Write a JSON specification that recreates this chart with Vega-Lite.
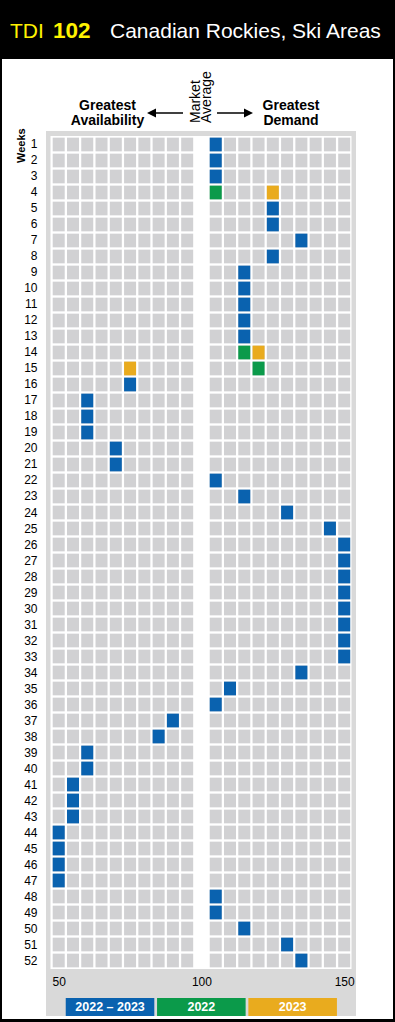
{
  "$schema": "https://vega.github.io/schema/vega-lite/v6.json",
  "width": 395,
  "height": 1022,
  "autosize": {"type": "fit", "contains": "padding"},
  "padding": {"left": 2, "right": 2, "top": 0, "bottom": 3},
  "background": "#000000",
  "config": {"view": {"fill": "#ffffff", "stroke": null}, "font": "Liberation Sans"},
  "datasets": {
    "cells": [
      {"week": 1, "col": 105, "period": "2022 – 2023"},
      {"week": 2, "col": 105, "period": "2022 – 2023"},
      {"week": 3, "col": 105, "period": "2022 – 2023"},
      {"week": 4, "col": 105, "period": "2022"},
      {"week": 4, "col": 125, "period": "2023"},
      {"week": 5, "col": 125, "period": "2022 – 2023"},
      {"week": 6, "col": 125, "period": "2022 – 2023"},
      {"week": 7, "col": 135, "period": "2022 – 2023"},
      {"week": 8, "col": 125, "period": "2022 – 2023"},
      {"week": 9, "col": 115, "period": "2022 – 2023"},
      {"week": 10, "col": 115, "period": "2022 – 2023"},
      {"week": 11, "col": 115, "period": "2022 – 2023"},
      {"week": 12, "col": 115, "period": "2022 – 2023"},
      {"week": 13, "col": 115, "period": "2022 – 2023"},
      {"week": 14, "col": 115, "period": "2022"},
      {"week": 14, "col": 120, "period": "2023"},
      {"week": 15, "col": 120, "period": "2022"},
      {"week": 15, "col": 75, "period": "2023"},
      {"week": 16, "col": 75, "period": "2022 – 2023"},
      {"week": 17, "col": 60, "period": "2022 – 2023"},
      {"week": 18, "col": 60, "period": "2022 – 2023"},
      {"week": 19, "col": 60, "period": "2022 – 2023"},
      {"week": 20, "col": 70, "period": "2022 – 2023"},
      {"week": 21, "col": 70, "period": "2022 – 2023"},
      {"week": 22, "col": 105, "period": "2022 – 2023"},
      {"week": 23, "col": 115, "period": "2022 – 2023"},
      {"week": 24, "col": 130, "period": "2022 – 2023"},
      {"week": 25, "col": 145, "period": "2022 – 2023"},
      {"week": 26, "col": 150, "period": "2022 – 2023"},
      {"week": 27, "col": 150, "period": "2022 – 2023"},
      {"week": 28, "col": 150, "period": "2022 – 2023"},
      {"week": 29, "col": 150, "period": "2022 – 2023"},
      {"week": 30, "col": 150, "period": "2022 – 2023"},
      {"week": 31, "col": 150, "period": "2022 – 2023"},
      {"week": 32, "col": 150, "period": "2022 – 2023"},
      {"week": 33, "col": 150, "period": "2022 – 2023"},
      {"week": 34, "col": 135, "period": "2022 – 2023"},
      {"week": 35, "col": 110, "period": "2022 – 2023"},
      {"week": 36, "col": 105, "period": "2022 – 2023"},
      {"week": 37, "col": 90, "period": "2022 – 2023"},
      {"week": 38, "col": 85, "period": "2022 – 2023"},
      {"week": 39, "col": 60, "period": "2022 – 2023"},
      {"week": 40, "col": 60, "period": "2022 – 2023"},
      {"week": 41, "col": 55, "period": "2022 – 2023"},
      {"week": 42, "col": 55, "period": "2022 – 2023"},
      {"week": 43, "col": 55, "period": "2022 – 2023"},
      {"week": 44, "col": 50, "period": "2022 – 2023"},
      {"week": 45, "col": 50, "period": "2022 – 2023"},
      {"week": 46, "col": 50, "period": "2022 – 2023"},
      {"week": 47, "col": 50, "period": "2022 – 2023"},
      {"week": 48, "col": 105, "period": "2022 – 2023"},
      {"week": 49, "col": 105, "period": "2022 – 2023"},
      {"week": 50, "col": 115, "period": "2022 – 2023"},
      {"week": 51, "col": 130, "period": "2022 – 2023"},
      {"week": 52, "col": 135, "period": "2022 – 2023"}
    ],
    "periods": [
      {"period": "2022 – 2023"},
      {"period": "2022"},
      {"period": "2023"}
    ]
  },
  "resolve": {"scale": {"x": "independent"}},
  "layer": [
    {
      "layer": [
        {
          "data": {"values": [{}]},
          "mark": {"type": "rect", "fill": "#000000"},
          "encoding": {
            "x": {"datum": 30.14, "type": "quantitative", "scale": {"domain": [30.14, 167.09], "nice": false, "zero": false}},
            "x2": {"datum": 167.09},
            "y": {"datum": -8.031, "type": "quantitative", "scale": {"domain": [-8.031, 55.656], "nice": false, "zero": false, "reverse": true}},
            "y2": {"datum": -4.344}
          }
        },
        {
          "data": {"values": [{}]},
          "mark": {"type": "text", "text": "TDI", "fontSize": 21, "fontWeight": "normal", "fill": "#fff200", "align": "left", "baseline": "alphabetic"},
          "encoding": {
            "x": {"datum": 32.94, "type": "quantitative"},
            "y": {"datum": -5.656, "type": "quantitative"}
          }
        },
        {
          "data": {"values": [{}]},
          "mark": {"type": "text", "text": "102", "fontSize": 22.5, "fontWeight": "bold", "fill": "#fff200", "align": "left", "baseline": "alphabetic"},
          "encoding": {
            "x": {"datum": 48.0, "type": "quantitative"},
            "y": {"datum": -5.656, "type": "quantitative"}
          }
        },
        {
          "data": {"values": [{}]},
          "mark": {"type": "text", "text": "Canadian Rockies, Ski Areas", "fontSize": 21, "fontWeight": "normal", "fill": "#ffffff", "align": "left", "baseline": "alphabetic"},
          "encoding": {
            "x": {"datum": 67.97, "type": "quantitative"},
            "y": {"datum": -5.656, "type": "quantitative"}
          }
        },
        {
          "data": {"values": [{}]},
          "mark": {"type": "rect", "fill": "#d9d9d9"},
          "encoding": {
            "x": {"datum": 45.55, "type": "quantitative"},
            "x2": {"datum": 154.13},
            "y": {"datum": 0.156, "type": "quantitative"},
            "y2": {"datum": 55.47}
          }
        },
        {
          "data": {"values": [{}]},
          "mark": {"type": "rect", "fill": "#ffffff"},
          "encoding": {
            "x": {"datum": 47.13, "type": "quantitative"},
            "x2": {"datum": 152.56},
            "y": {"datum": 0.469, "type": "quantitative"},
            "y2": {"datum": 52.53}
          }
        },
        {
          "data": {"name": "cells"},
          "transform": [
            {"impute": "period", "key": "col", "keyvals": [50, 55, 60, 65, 70, 75, 80, 85, 90, 95, 105, 110, 115, 120, 125, 130, 135, 140, 145, 150], "groupby": ["week"], "value": "none"}
          ],
          "mark": {"type": "point", "shape": "M-0.876,-1H0.876V1H-0.876Z", "size": 187.7, "filled": true, "opacity": 1, "fill": "#d1d1d3", "strokeWidth": 0},
          "encoding": {
            "x": {"field": "col", "type": "quantitative", "axis": {"values": [50, 100, 150], "offset": -49, "labelPadding": 6, "ticks": false, "tickSize": 0, "domain": false, "grid": false, "title": null, "labelFont": "Liberation Sans", "labelFontSize": 12, "labelColor": "#000000", "labelOverlap": false, "zindex": 1}},
            "y": {"field": "week", "type": "quantitative", "axis": {"values": [], "ticks": false, "domain": false, "grid": false, "labels": false, "title": null}}
          }
        },
        {
          "data": {"name": "cells"},
          "mark": {"type": "point", "shape": "M-0.876,-1H0.876V1H-0.876Z", "size": 187.7, "filled": true, "opacity": 1, "strokeWidth": 0},
          "encoding": {
            "x": {"field": "col", "type": "quantitative"},
            "y": {"field": "week", "type": "quantitative"},
            "color": {"field": "period", "type": "nominal", "legend": null, "scale": {"domain": ["2022 – 2023", "2022", "2023"], "range": ["#0a62af", "#0b9a4a", "#e9ab1e"]}}
          }
        },
        {
          "data": {"name": "cells"},
          "transform": [
            {"aggregate": [{"op": "count", "as": "n"}], "groupby": ["week"]}
          ],
          "mark": {"type": "text", "fontSize": 12, "fill": "#000000", "align": "right", "baseline": "middle"},
          "encoding": {
            "x": {"datum": 42.57, "type": "quantitative"},
            "y": {"field": "week", "type": "quantitative"},
            "text": {"field": "week", "type": "quantitative", "format": "d"}
          }
        },
        {
          "data": {"values": [{}]},
          "mark": {"type": "text", "text": ["Greatest", "Availability"], "fontSize": 14, "fontWeight": "bold", "lineHeight": 14.5, "fill": "#000000", "align": "center", "baseline": "alphabetic"},
          "encoding": {
            "x": {"datum": 67.09, "type": "quantitative"},
            "y": {"datum": -1.156, "type": "quantitative"}
          }
        },
        {
          "data": {"values": [{}]},
          "mark": {"type": "text", "text": ["Greatest", "Demand"], "fontSize": 14, "fontWeight": "bold", "lineHeight": 14.5, "fill": "#000000", "align": "center", "baseline": "alphabetic"},
          "encoding": {
            "x": {"datum": 131.37, "type": "quantitative"},
            "y": {"datum": -1.156, "type": "quantitative"}
          }
        },
        {
          "data": {"values": [{}]},
          "mark": {"type": "text", "text": ["Market", "Average"], "fontSize": 14, "fontWeight": "normal", "lineHeight": 11.5, "angle": 270, "fill": "#000000", "align": "left", "baseline": "alphabetic"},
          "encoding": {
            "x": {"datum": 99.32, "type": "quantitative"},
            "y": {"datum": -0.344, "type": "quantitative"}
          }
        },
        {
          "data": {"values": [{}]},
          "mark": {"type": "rule", "stroke": "#000000", "strokeWidth": 1.5},
          "encoding": {
            "x": {"datum": 82.33, "type": "quantitative"},
            "x2": {"datum": 93.54},
            "y": {"datum": -0.969, "type": "quantitative"}
          }
        },
        {
          "data": {"values": [{}]},
          "mark": {"type": "rule", "stroke": "#000000", "strokeWidth": 1.5},
          "encoding": {
            "x": {"datum": 105.45, "type": "quantitative"},
            "x2": {"datum": 116.66},
            "y": {"datum": -0.969, "type": "quantitative"}
          }
        },
        {
          "data": {"values": [{}]},
          "mark": {"type": "point", "shape": "M-1,0L1,-1L1,1Z", "size": 81, "filled": true, "opacity": 1, "fill": "#000000", "strokeWidth": 0},
          "encoding": {
            "x": {"datum": 82.5, "type": "quantitative"},
            "y": {"datum": -0.969, "type": "quantitative"}
          }
        },
        {
          "data": {"values": [{}]},
          "mark": {"type": "point", "shape": "M1,0L-1,-1L-1,1Z", "size": 81, "filled": true, "opacity": 1, "fill": "#000000", "strokeWidth": 0},
          "encoding": {
            "x": {"datum": 116.48, "type": "quantitative"},
            "y": {"datum": -0.969, "type": "quantitative"}
          }
        },
        {
          "data": {"values": [{}]},
          "mark": {"type": "text", "text": "Weeks", "fontSize": 11, "fontWeight": "bold", "angle": 270, "fill": "#000000", "align": "left", "baseline": "alphabetic"},
          "encoding": {
            "x": {"datum": 38.2, "type": "quantitative"},
            "y": {"datum": 2.156, "type": "quantitative"}
          }
        }
      ]
    },
    {
      "data": {"name": "periods"},
      "layer": [
        {
          "mark": {"type": "rect"},
          "encoding": {
            "x": {"field": "period", "type": "nominal", "axis": null, "scale": {"domain": ["2022 – 2023", "2022", "2023"], "paddingInner": 0.03, "paddingOuter": 0.656, "align": 0.532}},
            "y": {"datum": 54.34, "type": "quantitative"},
            "y2": {"datum": 55.47},
            "color": {"field": "period", "type": "nominal", "legend": null}
          }
        },
        {
          "mark": {"type": "text", "fill": "#ffffff", "fontSize": 12.5, "fontWeight": "bold", "align": "center", "baseline": "middle"},
          "encoding": {
            "x": {"field": "period", "type": "nominal", "axis": null},
            "y": {"datum": 54.906, "type": "quantitative"},
            "text": {"field": "period"}
          }
        }
      ]
    }
  ]
}
